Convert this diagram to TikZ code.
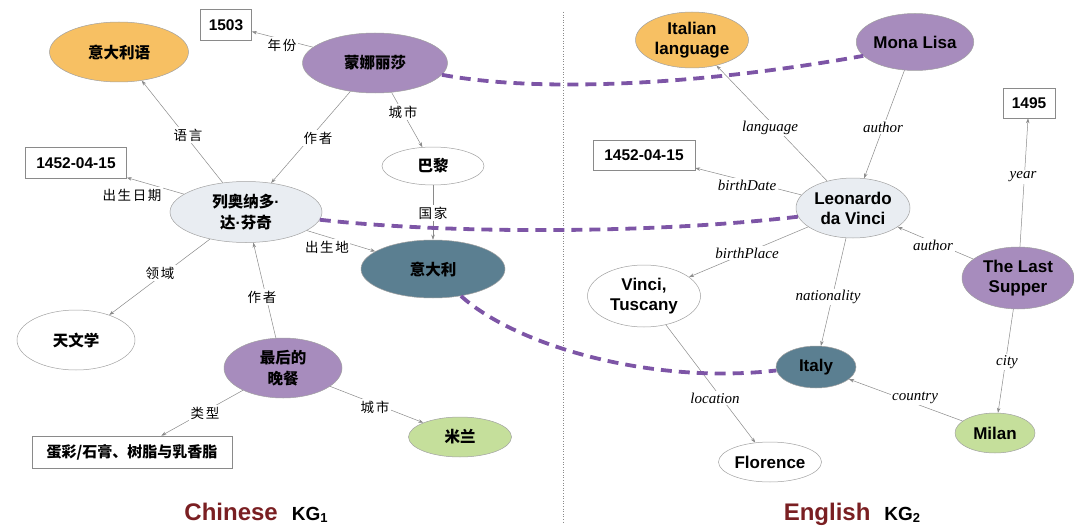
\documentclass[tikz,border=0pt]{standalone}
\usepackage{fontspec}
\setmainfont{Liberation Serif}
\setsansfont{Liberation Sans}
\newfontfamily\cjk{Noto Sans CJK SC}
\newfontfamily\cjklbl[LetterSpace=12]{Noto Sans CJK SC}
\usetikzlibrary{shapes.geometric,arrows.meta}
\definecolor{orangeN}{HTML}{F7C063}
\definecolor{purpleN}{HTML}{A78CBD}
\definecolor{grayN}{HTML}{E9EDF2}
\definecolor{tealN}{HTML}{5B7F91}
\definecolor{greenN}{HTML}{C5DF9B}
\definecolor{dashP}{HTML}{7D55A6}
\definecolor{titleR}{HTML}{7A1F22}
\definecolor{edgeG}{HTML}{8A8A8A}
\newcommand{\mdot}{{\sffamily\bfseries\char"00B7}}
\tikzset{
  ent/.style={ellipse, draw=edgeG!80, line width=0.5pt, inner sep=0pt, align=center,
    font=\sffamily\bfseries\fontsize{17}{20}\selectfont},
  cnent/.style={ent, font=\cjk\bfseries\fontsize{15.5}{21}\selectfont},
  lit/.style={rectangle, draw=edgeG, line width=0.6pt, inner sep=0pt,
    font=\sffamily\bfseries\fontsize{15.5}{18}\selectfont},
  cnlit/.style={lit, font=\cjk\bfseries\fontsize{15}{18}\selectfont},
  rel/.style={draw=edgeG, line width=0.5pt, -{Stealth[length=5pt,width=3.5pt]}},
  lblcn/.style={fill=white, inner sep=1.5pt, font=\cjklbl\fontsize{13.5}{15}\selectfont},
  lblen/.style={fill=white, inner sep=1.5pt, font=\itshape\fontsize{15}{17}\selectfont},
  matchline/.style={draw=dashP, line width=3.8pt, dash pattern=on 11pt off 7pt},
  title/.style={inner sep=0pt, font=\sffamily\bfseries}
}
\begin{document}
\begin{tikzpicture}[x=1pt,y=-1pt]
\useasboundingbox (0,0) rectangle (1074,527);
% divider
\coordinate (divtop) at (563,12);
\coordinate (divbot) at (563,522);
\draw[edgeG, dotted, line width=0.6pt] (divtop) -- (divbot);

% ---------- Chinese KG ----------
\node[cnent, fill=orangeN, minimum width=139pt, minimum height=60pt] (yyl) at (119,52) {意大利语};
\node[lit, minimum width=51pt, minimum height=31pt] (y1503) at (226,25) {1503};
\node[cnent, fill=purpleN, minimum width=145pt, minimum height=60pt] (mlcn) at (375,63) {蒙娜丽莎};
\node[cnent, fill=white, minimum width=102pt, minimum height=38pt] (paris) at (433,166) {巴黎};
\node[lit, minimum width=101pt, minimum height=31pt] (bdcn) at (76,163) {1452-04-15};
\node[cnent, fill=grayN, minimum width=152pt, minimum height=61pt] (ldcn) at (246,212) {列奥纳多\mdot\\达\mdot 芬奇};
\node[cnent, fill=tealN, minimum width=144pt, minimum height=58pt] (itcn) at (433,269) {意大利};
\node[cnent, fill=white, minimum width=118pt, minimum height=60pt] (astro) at (76,340) {天文学};
\node[cnent, fill=purpleN, minimum width=118pt, minimum height=60pt] (lscn) at (283,368) {最后的\\晚餐};
\node[cnlit, minimum width=200pt, minimum height=32pt] (medium) at (132,452) {蛋彩/石膏、树脂与乳香脂};
\node[cnent, fill=greenN, minimum width=103pt, minimum height=40pt] (milcn) at (460,437) {米兰};

\draw[rel] (mlcn) -- (y1503);
\draw[rel] (ldcn) -- (yyl);
\draw[rel] (mlcn) -- (ldcn);
\draw[rel] (mlcn) -- (paris);
\draw[rel] (paris) -- (itcn);
\draw[rel] (ldcn) -- (bdcn);
\draw[rel] (ldcn) -- (itcn);
\draw[rel] (ldcn) -- (astro);
\draw[rel] (lscn) -- (ldcn);
\draw[rel] (lscn) -- (medium);
\draw[rel] (lscn) -- (milcn);

% ---------- English KG ----------
\node[ent, fill=orangeN, minimum width=113pt, minimum height=56pt] (itlang) at (692,40) {Italian\\language};
\node[ent, fill=purpleN, minimum width=112pt, minimum height=57pt] (mlen) at (915,42) {Mona Lisa};
\node[lit, minimum width=102pt, minimum height=30pt] (bden) at (644,155) {1452-04-15};
\node[lit, minimum width=52pt, minimum height=30pt] (y1495) at (1029,103) {1495};
\node[ent, fill=grayN, minimum width=114pt, minimum height=60pt] (lden) at (853,208) {Leonardo\\da Vinci};
\node[ent, fill=purpleN, minimum width=112pt, minimum height=62pt] (lsen) at (1018,278) {The Last\\Supper};
\node[ent, fill=white, minimum width=113pt, minimum height=62pt] (vinci) at (644,296) {Vinci,\\Tuscany};
\node[ent, fill=tealN, minimum width=80pt, minimum height=42pt] (iten) at (816,367) {Italy};
\node[ent, fill=white, minimum width=103pt, minimum height=40pt] (flor) at (770,462) {Florence};
\node[ent, fill=greenN, minimum width=80pt, minimum height=40pt] (milen) at (995,433) {Milan};

\draw[rel] (lden) -- (itlang);
\draw[rel] (mlen) -- (lden);
\draw[rel] (lden) -- (bden);
\draw[rel] (lden) -- (vinci);
\draw[rel] (lden) -- (iten);
\draw[rel] (lsen) -- (lden);
\draw[rel] (lsen) -- (y1495);
\draw[rel] (lsen) -- (milen);
\draw[rel] (milen) -- (iten);
\draw[rel] (vinci) -- (flor);

% ---------- alignment links ----------
\draw[matchline] (mlcn.-10) .. controls (540,93) and (700,85) .. (mlen.195);
\draw[matchline] (ldcn.-6) .. controls (450,234) and (650,234) .. (lden.189);
\draw[matchline] (itcn.-44) .. controls (515,345) and (650,385) .. (iten.185);

% ---------- edge labels ----------
\node[lblcn] (l1) at (282,45) {年份};
\node[lblcn] (l2) at (188,135) {语言};
\node[lblcn] (l3) at (318,138) {作者};
\node[lblcn] (l4) at (403,112) {城市};
\node[lblcn] (l5) at (433,213) {国家};
\node[lblcn] (l6) at (132,195) {出生日期};
\node[lblcn] (l7) at (327,247) {出生地};
\node[lblcn] (l8) at (160,273) {领域};
\node[lblcn] (l9) at (262,297) {作者};
\node[lblcn] (l10) at (205,413) {类型};
\node[lblcn] (l11) at (375,407) {城市};

\node[lblen] (e1) at (770,128) {language};
\node[lblen] (e2) at (883,127) {author};
\node[lblen] (e3) at (747,185) {birthDate};
\node[lblen] (e4) at (747,253) {birthPlace};
\node[lblen] (e5) at (933,245) {author};
\node[lblen] (e6) at (1023,177) {year};
\node[lblen] (e7) at (828,297) {nationality};
\node[lblen] (e8) at (1007,362) {city};
\node[lblen] (e9) at (715,398) {location};
\node[lblen] (e10) at (915,398) {country};

% ---------- titles ----------
\node[title, anchor=base] (t1) at (256,520) {\fontsize{24}{26}\selectfont\color{titleR}Chinese\hspace{14pt}\color{black}\fontsize{19}{22}\selectfont KG\raisebox{-2pt}{\fontsize{13}{14}\selectfont 1}};
\node[title, anchor=base] (t2) at (852,520) {\fontsize{24}{26}\selectfont\color{titleR}English\hspace{14pt}\color{black}\fontsize{19}{22}\selectfont KG\raisebox{-2pt}{\fontsize{13}{14}\selectfont 2}};
\end{tikzpicture}
\end{document}
